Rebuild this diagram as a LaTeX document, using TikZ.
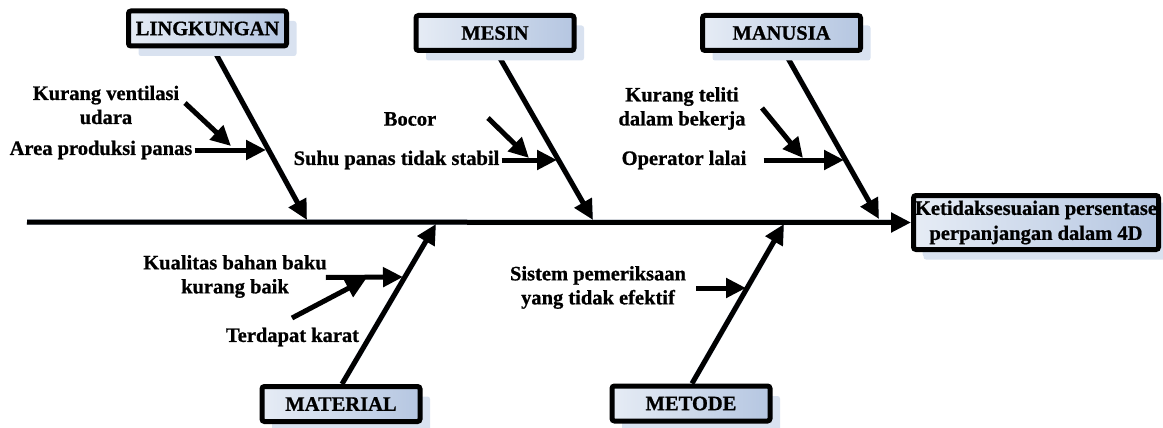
\documentclass[tikz,border=0pt]{standalone}
\usepackage{fontspec}
\setmainfont{Liberation Serif}[BoldFeatures={FakeBold=0.8}]
\usetikzlibrary{arrows.meta,shadows}
\definecolor{boxL}{HTML}{E6ECF5}
\definecolor{boxR}{HTML}{B5C6E1}
\definecolor{shad}{HTML}{D9E2F0}
\definecolor{lshad}{HTML}{CCD8EC}
\pgfdeclarelayer{bg}
\pgfsetlayers{bg,main}
\begin{document}
\begin{tikzpicture}[x=1pt,y=-1pt,
  lab/.style={font=\fontsize{20.5}{24}\selectfont\bfseries, align=center, inner sep=2pt},
  catbox/.style={draw=black, line width=5pt, rounded corners=2.5pt, left color=boxL, right color=boxR,
    minimum width=158pt, minimum height=35pt, inner sep=0pt,
    font=\fontsize{20.5}{24}\selectfont\bfseries,
    drop shadow={shadow xshift=10pt, shadow yshift=-10pt, fill=shad, opacity=1}},
  effbox/.style={catbox, minimum width=245pt, minimum height=54pt, align=center,
    font=\fontsize{20.5}{25}\selectfont\bfseries,
    drop shadow={shadow xshift=9pt, shadow yshift=-7pt, fill=shad, opacity=1}},
  bone/.style={line width=5pt, -{Triangle[length=20pt,width=19pt]}},
  sub/.style={line width=5pt, -{Triangle[length=20pt,width=19pt]}},
  bshad/.style={lshad, line width=5.5pt, -{Triangle[length=20pt,width=19pt]}, shift={(9pt,-9pt)}}]
\useasboundingbox (0,0) rectangle (1163,428);

% category boxes
\node[catbox] (L) at (207.5,28.5) {LINGKUNGAN};
\node[catbox] (M) at (495,33) {MESIN};
\node[catbox] (H) at (781.5,33) {MANUSIA};
\node[catbox] (T) at (341,404) {MATERIAL};
\node[catbox] (D) at (691,403.5) {METODE};
\node[effbox] (E) at (1036,222.5) {Ketidaksesuaian persentase\\perpanjangan dalam 4D};

% spine and bone tips
\coordinate (s0) at (27,222);
\coordinate (lt) at (307,220);
\coordinate (mt) at (593,220);
\coordinate (ht) at (879,219);
\coordinate (tt) at (436,224);
\coordinate (dt) at (784,224);

% labels
\node[lab] (kv) at (106,105) {Kurang ventilasi\\udara};
\node[lab] (ap) at (101,150) {Area produksi panas};
\node[lab] (bo) at (410,119) {Bocor};
\node[lab] (su) at (396.5,160) {Suhu panas tidak stabil};
\node[lab] (kt) at (682,108.5) {Kurang teliti\\dalam bekerja};
\node[lab] (ol) at (684,160) {Operator lalai};
\node[lab] (kb) at (235,276.5) {Kualitas bahan baku\\kurang baik};
\node[lab] (tk) at (292.5,337) {Terdapat karat};
\node[lab] (sp) at (598,287.5) {Sistem pemeriksaan\\yang tidak efektif};

% sub-arrow tips and free starts
\coordinate (kvs) at (185,103);  \coordinate (kvt) at (231,146);
\coordinate (apt) at (266,150);
\coordinate (bos) at (488,118);  \coordinate (bot) at (529,158);
\coordinate (sut) at (557,160);
\coordinate (kts) at (762,108);  \coordinate (ktt) at (803,158);
\coordinate (olt) at (844,160);
\coordinate (kbt) at (403,277);
\coordinate (tks) at (292,318);  \coordinate (tkt) at (366,279);
\coordinate (spt) at (746,288);

\begin{pgfonlayer}{bg}
  % shadows
  \draw[bshad] (s0) -- (E.west);
  \draw[bshad] ([xshift=5.5pt]L.south) -- (lt);
  \draw[bshad] ([xshift=2pt]M.south) -- (mt);
  \draw[bshad] ([xshift=3.5pt]H.south) -- (ht);
  \draw[bshad] ([xshift=1pt]T.north) -- (tt);
  \draw[bshad] ([xshift=1pt]D.north) -- (dt);
  % bones
  \draw[bone] (s0) -- (E.west);
  \draw[bone] ([xshift=5.5pt]L.south) -- (lt);
  \draw[bone] ([xshift=2pt]M.south) -- (mt);
  \draw[bone] ([xshift=3.5pt]H.south) -- (ht);
  \draw[bone] ([xshift=1pt]T.north) -- (tt);
  \draw[bone] ([xshift=1pt]D.north) -- (dt);
\end{pgfonlayer}

% sub-cause arrows
\draw[sub] (kvs) -- (kvt);
\draw[sub] (ap.east) -- (apt);
\draw[sub] (bos) -- (bot);
\draw[sub] (su.east) -- (sut);
\draw[sub] (kts) -- (ktt);
\draw[sub] (ol.east) ++(15pt,0) -- (olt);
\draw[sub] ([xshift=-3pt,yshift=-1pt]kb.east) -- (kbt);
\draw[sub] (tks) -- (tkt);
\draw[sub] ([xshift=8pt]sp.north east |- spt) -- (spt);
\end{tikzpicture}
\end{document}
